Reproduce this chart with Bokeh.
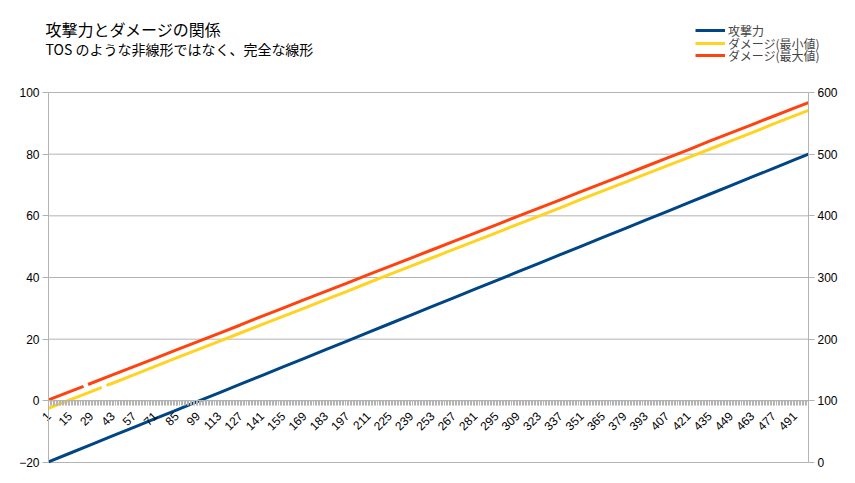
import math
from bokeh.plotting import figure
from bokeh.models import Range1d, LinearAxis, FixedTicker, Legend, LegendItem, Label
from bokeh.embed import file_html
from bokeh.resources import INLINE

nan = float("nan")

# ---- data ----
categories = list(range(1, 501))
tick_labels = ["1", "15", "29", "43", "57", "71", "85", "99", "113", "127", "141", "155",
               "169", "183", "197", "211", "225", "239", "253", "267", "281", "295", "309",
               "323", "337", "351", "365", "379", "393", "407", "421", "435", "449", "463",
               "477", "491"]
left_ticks = [-20, 0, 20, 40, 60, 80, 100]
right_ticks = [0, 100, 200, 300, 400, 500, 600]

atk_cats = [1, 15, 29, 43, 57, 71, 85, 99, 113, 127, 141, 155, 169, 183, 197, 211, 225, 239,
            253, 267, 281, 295, 309, 323, 337, 351, 365, 379, 393, 407, 421, 435, 449, 463,
            477, 491, 500]
atk_vals = [1, 15, 29, 43, 57, 71, 85, 99, 113, 127, 141, 155, 169, 183, 197, 211, 225, 239,
            253, 267, 281, 295, 309, 323, 337, 351, 365, 379, 393, 407, 421, 435, 449, 463,
            477, 491, 500]

min_cats = [1, 15, 29, 36, 37, 39, 43, 57, 71, 85, 99, 113, 127, 141, 155, 169, 183, 197, 211,
            225, 239, 253, 267, 281, 295, 309, 323, 337, 351, 365, 379, 393, 407, 421, 435,
            449, 463, 477, 491, 500]
min_vals = [-2.4, 0.3, 3.0, 4.4, nan, 5.0, 5.7, 8.4, 11.2, 13.9, 16.6, 19.3, 22.0, 24.7, 27.4,
            30.1, 32.8, 35.5, 38.3, 41.0, 43.7, 46.4, 49.1, 51.8, 54.5, 57.2, 59.9, 62.6, 65.4,
            68.1, 70.8, 73.5, 76.2, 78.9, 81.6, 84.3, 87.0, 89.8, 92.5, 94.2]

max_cats = [1, 15, 24, 25, 27, 29, 43, 57, 71, 85, 99, 113, 127, 141, 155, 169, 183, 197, 211,
            225, 239, 253, 267, 281, 295, 309, 323, 337, 351, 365, 379, 393, 407, 421, 435,
            449, 463, 477, 491, 500]
max_vals = [0.3, 3.0, 4.7, nan, 5.3, 5.7, 8.4, 11.1, 13.8, 16.5, 19.2, 21.9, 24.6, 27.4, 30.1,
            32.8, 35.5, 38.2, 40.9, 43.6, 46.3, 49.0, 51.7, 54.4, 57.1, 59.8, 62.5, 65.2, 67.9,
            70.6, 73.3, 76.0, 78.7, 81.4, 84.2, 86.9, 89.6, 92.3, 95.0, 96.7]

series_names = ["攻撃力", "ダメージ(最小値)", "ダメージ(最大値)"]
colors = ["#004586", "#ffd320", "#ff420e"]
title_text = "攻撃力とダメージの関係"
subtitle_text = "TOS のような非線形ではなく、完全な線形"

# ---- layout (pixels) ----
W, H = 855, 483
PL, PR, PT, PB = 48, 808, 92, 462          # plot-area edges
GRAY = "#b3b3b3"
CJK = "Noto Sans CJK JP"
LAT = "Liberation Sans"


def extend(lo, hi, p_lo, p_hi, total):
    """range whose [lo, hi] lands on pixels [p_lo, p_hi] of a canvas of size total"""
    k = (hi - lo) / (p_hi - p_lo)
    return Range1d(lo - p_lo * k, hi + (total - p_hi) * k)


x0, x1 = categories[0], categories[-1]
xr = extend(x0, x1, PL, PR, W)
yr = extend(left_ticks[0], left_ticks[-1], H - PB, H - PT, H)
rr = extend(right_ticks[0], right_ticks[-1], H - PB, H - PT, H)

p = figure(width=W, height=H, output_backend="svg", toolbar_location=None,
           x_range=xr, y_range=yr, min_border=0)
p.extra_y_ranges = {"right": rr}
p.outline_line_color = None
p.xgrid.visible = False
p.ygrid.visible = False

# horizontal grid lines between the two value axes
p.segment(x0=[x0] * len(left_ticks), x1=[x1] * len(left_ticks), y0=left_ticks, y1=left_ticks,
          line_color=GRAY, line_width=1)

# category axis crossing at value 0
xa = p.xaxis[0]
xa.fixed_location = 0
xa.bounds = (x0, x1)
tick_pos = [int(t) for t in tick_labels]
xa.ticker = FixedTicker(ticks=tick_pos, minor_ticks=categories)
xa.major_label_overrides = {c: t for c, t in zip(tick_pos, tick_labels)}
xa.major_label_orientation = math.pi / 4
xa.axis_line_color = GRAY
xa.major_tick_line_color = GRAY
xa.minor_tick_line_color = GRAY
xa.major_tick_in = 0
xa.major_tick_out = 5
xa.minor_tick_in = 0
xa.minor_tick_out = 5
xa.major_label_text_font = LAT
xa.major_label_text_font_size = "12px"
xa.major_label_text_color = "black"
xa.major_label_standoff = 8

ya = p.yaxis[0]
ya.ticker = FixedTicker(ticks=left_ticks)
ya.fixed_location = x0
ya.bounds = (left_ticks[0], left_ticks[-1])
ra = LinearAxis(y_range_name="right", ticker=FixedTicker(ticks=right_ticks),
                fixed_location=x1, bounds=(right_ticks[0], right_ticks[-1]))
p.add_layout(ra, "right")
for ax in (ya, ra):
    ax.axis_line_color = GRAY
    ax.major_tick_line_color = GRAY
    ax.major_tick_in = 0
    ax.major_tick_out = 6
    ax.minor_tick_line_color = None
    ax.major_label_standoff = 3
    ax.major_label_text_font = LAT
    ax.major_label_text_font_size = "12px"
    ax.major_label_text_color = "black"

r_atk = p.line(atk_cats, atk_vals, y_range_name="right", line_color=colors[0], line_width=3)
r_min = p.line(min_cats, min_vals, line_color=colors[1], line_width=3)
r_max = p.line(max_cats, max_vals, line_color=colors[2], line_width=3)

# legend: one row per entry, rows centred at 30, 43, 55 px from the top
ROW = 18
for r, name, cy in zip([r_atk, r_min, r_max], series_names, [30, 43, 55]):
    lg = Legend(items=[LegendItem(label=name, renderers=[r])],
                location=(695, H - (cy + ROW / 2)), padding=0, margin=0, spacing=0,
                glyph_width=30, glyph_height=ROW, label_height=ROW, label_standoff=3,
                label_text_font=CJK, label_text_font_size="12px",
                border_line_color=None, background_fill_alpha=0)
    p.add_layout(lg, "center")

p.add_layout(Label(x=45, y=H - 28, x_units="screen", y_units="screen", text=title_text,
                   text_font=CJK, text_font_size="16px", text_baseline="middle",
                   text_color="black"))
p.add_layout(Label(x=45, y=H - 48, x_units="screen", y_units="screen", text=subtitle_text,
                   text_font=CJK, text_font_size="14px", text_baseline="middle",
                   text_color="black"))

open("out.html", "w").write(file_html(p, INLINE))
